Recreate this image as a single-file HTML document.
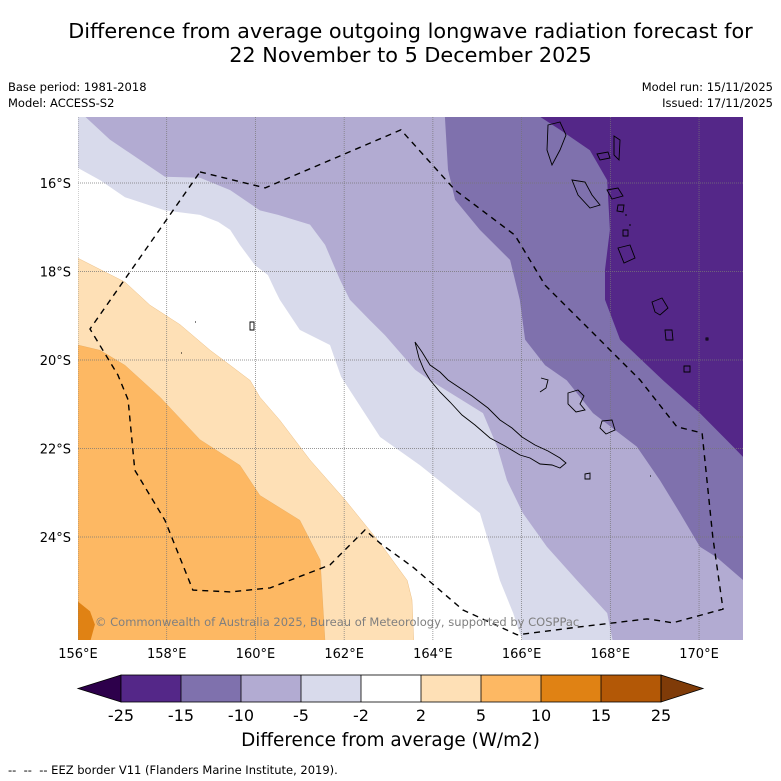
<!DOCTYPE html>
<html><head><meta charset="utf-8">
<style>
body{margin:0;background:#fff;font-family:"DejaVu Sans","Liberation Sans",sans-serif;}
#wrap{position:relative;width:781px;height:781px;overflow:hidden;background:#fff;}
.t{position:absolute;white-space:nowrap;color:#000;}
svg text{font-family:"DejaVu Sans","Liberation Sans",sans-serif;}
</style></head>
<body>
<div id="wrap">
<div class="t" style="left:0;width:821px;text-align:center;top:19px;font-size:20.8px;line-height:24px;">Difference from average outgoing longwave radiation forecast for<br>22 November to 5 December 2025</div>
<div class="t" style="left:8px;top:79px;font-size:11.5px;line-height:16px;">Base period: 1981-2018<br>Model: ACCESS-S2</div>
<div class="t" style="right:8px;top:79px;font-size:11.5px;line-height:16px;text-align:right;">Model run: 15/11/2025<br>Issued: 17/11/2025</div>
<svg id="map" width="781" height="781" style="position:absolute;left:0;top:0;">
<defs><clipPath id="clip"><rect x="78" y="117" width="665" height="523"/></clipPath></defs>
<g id="fills" clip-path="url(#clip)"></g>
<g id="grid" clip-path="url(#clip)"></g>
<g id="islands" clip-path="url(#clip)" fill="none" stroke="#000" stroke-width="0.9">
<path d="M415,342 L422,352 L430,365 L440,372 L448,380 L460,388 L472,396 L488,408 L500,420 L512,428 L522,437 L535,445 L548,451 L560,458 L566,463 L560,468 L552,465 L540,464 L530,458 L520,455 L505,446 L490,438 L475,425 L462,415 L450,402 L440,392 L430,380 L424,370 L419,358 Z"/>
<path d="M568,393 L578,390 L584,396 L580,404 L585,410 L576,412 L568,404 Z"/>
<path d="M602,421 L612,420 L615,430 L606,434 L600,428 Z"/>
<path d="M541,378 L548,380 L546,388 L540,392"/>
<path d="M585,474 L590,473 L590,479 L585,479 Z"/>
<path d="M548,125 L560,122 L566,135 L560,150 L552,165 L547,150 Z"/>
<path d="M572,180 L585,182 L592,195 L600,205 L590,208 L578,195 Z"/>
<path d="M614,136 L620,140 L619,160 L614,155 Z M597,154 L608,152 L610,158 L600,160 Z"/>
<path d="M607,190 L618,188 L623,196 L612,199 Z M618,205 L624,205 L623,212 L617,211 Z"/>
<path d="M618,248 L630,245 L635,258 L624,263 Z M623,230 L628,230 L628,236 L623,236 Z"/>
<path d="M652,302 L662,298 L668,308 L660,315 L655,312 Z M665,330 L672,330 L673,340 L666,340 Z"/>
<path d="M684,366 L690,366 L690,372 L684,372 Z M706,338 L708,338 L708,340 L706,340 Z"/>
<path d="M250,322 L254,322 L254,330 L250,330 Z M195,322 L196,322 M181,353 L182,353 M650,476 L651,476 M629,225 L631,225 M625,215 L627,215"/>
</g>
<g id="eez" clip-path="url(#clip)"></g>
<text x="95" y="626" font-size="11.5" fill="#7f7f7f">© Commonwealth of Australia 2025, Bureau of Meteorology, supported by COSPPac</text>
<g id="axes"></g>
</svg>

<svg width="781" height="60" style="position:absolute;left:0;top:672px;">
<polygon points="78,16.5 121,3 121,30" fill="#2d004b" stroke="#000" stroke-width="0.8"/>
<rect x="121" y="3" width="60" height="27" fill="#542788"/>
<rect x="181" y="3" width="60" height="27" fill="#7f71ad"/>
<rect x="241" y="3" width="60" height="27" fill="#b2abd2"/>
<rect x="301" y="3" width="60" height="27" fill="#d8daeb"/>
<rect x="361" y="3" width="60" height="27" fill="#ffffff"/>
<rect x="421" y="3" width="60" height="27" fill="#fee0b6"/>
<rect x="481" y="3" width="60" height="27" fill="#fdb863"/>
<rect x="541" y="3" width="60" height="27" fill="#e08214"/>
<rect x="601" y="3" width="60" height="27" fill="#b35806"/>
<polygon points="661,3 703,16.5 661,30" fill="#7f3b08" stroke="#000" stroke-width="0.8"/>
<g stroke="#000" stroke-width="0.8" fill="none">
<rect x="121" y="3" width="540" height="27"/>
<path d="M181,3V30M241,3V30M301,3V30M361,3V30M421,3V30M481,3V30M541,3V30M601,3V30"/>
</g>
<g font-size="16" text-anchor="middle">
<text x="121" y="49">-25</text><text x="181" y="49">-15</text><text x="241" y="49">-10</text><text x="301" y="49">-5</text><text x="361" y="49">-2</text><text x="421" y="49">2</text><text x="481" y="49">5</text><text x="541" y="49">10</text><text x="601" y="49">15</text><text x="661" y="49">25</text>
</g>
</svg>
<div class="t" style="left:0;width:781px;text-align:center;top:730px;font-size:18.4px;">Difference from average (W/m2)</div>
<div class="t" style="left:8px;top:763px;font-size:11.5px;">--&nbsp; --&nbsp; -- EEZ border V11 (Flanders Marine Institute, 2019).</div>
</div>

<script>
// ---- data (lon °E, lat °S) ----
const lonTicks = [156,158,160,162,164,166,168,170];
const latTicks = [16,18,20,22,24];
const levelColors = ["#d8daeb","#b2abd2","#7f71ad","#542788","#fee0b6","#fdb863","#e08214"];
const contourM2 = [[156.0,15.66],[156.50,15.94],[157.06,16.32],[157.96,16.62],[158.75,16.72],[159.16,16.88],[159.43,17.06],[159.65,17.40],[159.99,17.86],[160.28,18.08],[160.44,18.42],[160.55,18.64],[161.00,19.32],[161.68,19.66],[161.93,20.38],[162.81,21.74],[163.71,22.38],[165.06,23.46],[165.29,24.22],[165.51,24.98],[165.81,25.72],[166.03,26.38]];
const contourM5 = [[156.16,14.50],[156.72,15.02],[157.40,15.48],[157.96,15.86],[158.75,15.88],[159.43,16.16],[160.10,16.62],[160.51,16.72],[161.23,16.94],[161.57,17.40],[161.91,18.20],[162.13,18.64],[162.58,19.10],[162.92,19.44],[163.60,20.22],[163.94,20.46],[165.13,21.20],[165.45,21.96],[165.67,22.72],[166.03,23.46],[166.57,24.22],[167.25,24.98],[167.93,25.72],[168.06,26.38]];
const contourM10 = [[164.27,14.50],[164.34,15.70],[164.50,16.38],[165.06,17.06],[165.74,17.74],[165.96,18.64],[166.08,19.54],[166.53,20.12],[167.02,20.46],[167.61,21.20],[168.60,21.96],[169.12,22.72],[169.57,23.46],[170.02,24.22],[170.40,24.46],[171.0,24.98]];
const contourM15 = [[166.41,14.50],[166.87,14.80],[167.54,15.26],[167.93,15.94],[167.99,17.06],[167.88,17.96],[167.88,18.64],[168.22,19.54],[169.19,20.46],[170.02,21.20],[170.77,21.96],[171.0,22.20]];
const contourP2 = [[156.0,17.70],[157.06,18.24],[157.62,18.76],[158.30,19.20],[158.98,19.78],[159.43,20.12],[159.88,20.46],[160.10,20.84],[160.55,21.36],[161.23,22.26],[162.02,23.16],[162.81,24.14],[163.42,24.98],[163.53,25.42],[163.57,26.38]];
const contourP5 = [[156.0,19.66],[156.50,19.78],[157.06,20.12],[157.85,20.84],[158.75,21.80],[159.65,22.38],[160.10,23.06],[161.00,23.62],[161.46,24.52],[161.57,26.38]];
const contourP10 = [[156.0,25.46],[156.27,25.68],[156.38,25.98],[156.27,26.38]];
const eezBorder = [[158.75,15.75],[160.22,16.11],[163.28,14.80],[164.50,16.16],[165.85,17.18],[166.53,18.31],[167.32,19.10],[168.67,20.45],[169.50,21.51],[170.07,21.65],[170.31,24.00],[170.54,25.63],[169.41,25.94],[168.83,25.85],[167.32,26.03],[165.90,26.21],[164.68,25.65],[163.55,24.68],[162.81,24.14],[162.47,23.84],[161.68,24.63],[160.33,25.15],[159.43,25.24],[158.59,25.20],[157.96,23.62],[157.28,22.49],[157.13,20.90],[156.90,20.34],[156.27,19.30],[158.75,15.75]];

// ---- axis functions ----
const X0=78, X1=743, Y0=117, Y1=640;
function xOf(lon){return 78+(lon-156)*44.36;}
function yOf(s){return 183+(s-16)*44.25;}
const NS="http://www.w3.org/2000/svg";
function pts(arr){return arr.map(p=>xOf(p[0]).toFixed(1)+","+yOf(p[1]).toFixed(1));}
const fills=document.getElementById('fills');
function poly(arr,extra,color,name){
  const p=document.createElementNS(NS,'polygon');
  p.setAttribute('points',pts(arr).concat(extra).join(' '));
  p.setAttribute('fill',color);
  
  
  fills.appendChild(p);
}
const TR=X1+"," +Y0, BR=X1+","+Y1, TL=X0+","+Y0, BL=X0+","+Y1;
poly(contourM2,[BR,TR,TL],levelColors[0],'region-minus2-to-minus5');
poly(contourM5,[BR,TR],levelColors[1],'region-minus5-to-minus10');
poly(contourM10,[TR],levelColors[2],'region-minus10-to-minus15');
poly(contourM15,[TR],levelColors[3],'region-below-minus15');
poly(contourP2,[BL],levelColors[4],'region-plus2-to-plus5');
poly(contourP5,[BL],levelColors[5],'region-plus5-to-plus10');
poly(contourP10,[BL],levelColors[6],'region-plus10-to-plus15');
[contourP2,contourP5].forEach(c=>{
  const l=document.createElementNS(NS,'polyline');
  l.setAttribute('points',pts(c).join(' '));
  l.setAttribute('fill','none');l.setAttribute('stroke','#e0a050');l.setAttribute('stroke-width','0.5');l.setAttribute('stroke-opacity','0.6');
  
  
  fills.appendChild(l);
});
const grid=document.getElementById('grid');
lonTicks.forEach(v=>{
  const l=document.createElementNS(NS,'line');
  l.setAttribute('x1',xOf(v));l.setAttribute('x2',xOf(v));l.setAttribute('y1',Y0);l.setAttribute('y2',Y1);
  l.setAttribute('stroke','#777');l.setAttribute('stroke-width','0.7');l.setAttribute('stroke-dasharray','1,1');
  
  
  grid.appendChild(l);
});
latTicks.forEach(v=>{
  const l=document.createElementNS(NS,'line');
  l.setAttribute('x1',X0);l.setAttribute('x2',X1);l.setAttribute('y1',yOf(v));l.setAttribute('y2',yOf(v));
  l.setAttribute('stroke','#777');l.setAttribute('stroke-width','0.7');l.setAttribute('stroke-dasharray','1,1');
  
  
  grid.appendChild(l);
});
const eez=document.createElementNS(NS,'polyline');
eez.setAttribute('points',pts(eezBorder).join(' '));
eez.setAttribute('fill','none');eez.setAttribute('stroke','#000');eez.setAttribute('stroke-width','1.4');eez.setAttribute('stroke-dasharray','6,5');


document.getElementById('eez').appendChild(eez);
const axes=document.getElementById('axes');
lonTicks.forEach(v=>{
  const t=document.createElementNS(NS,'text');
  t.setAttribute('x',xOf(v));t.setAttribute('y',658);t.setAttribute('text-anchor','middle');t.setAttribute('font-size','13');
  t.textContent=v+'°E';
  
  
  axes.appendChild(t);
});
latTicks.forEach(v=>{
  const t=document.createElementNS(NS,'text');
  t.setAttribute('x',71);t.setAttribute('y',yOf(v)+5);t.setAttribute('text-anchor','end');t.setAttribute('font-size','13');
  t.textContent=v+'°S';
  
  
  axes.appendChild(t);
});
</script>
</body></html>
